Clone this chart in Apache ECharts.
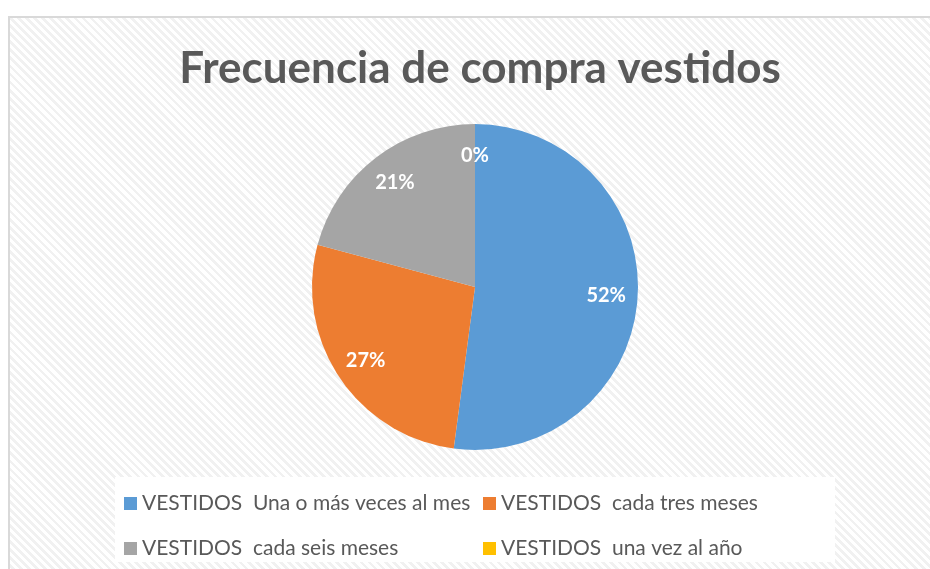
<!DOCTYPE html>
<html>
<head>
<meta charset="utf-8">
<script src="https://cdn.jsdelivr.net/npm/echarts@6/dist/echarts.min.js"></script>
<style>
  html, body { margin: 0; padding: 0; background: #fff; overflow: hidden; }
  #frame {
    position: absolute; left: 8px; top: 16px; width: 940px; height: 570px;
    border: 2px solid #d9d9d9;
    background: repeating-linear-gradient(45deg, #ffffff 0px, #ffffff 3px, #f1f1f1 3px, #f1f1f1 5.7px);
  }
  #chart { position: absolute; left: 0; top: 0; width: 930px; height: 569px; }
</style>
</head>
<body>
<div id="frame"></div>
<div id="chart"></div>
<script>
// categories and counts behind the percentages
const categories = [
  "VESTIDOS  Una o más veces al mes",
  "VESTIDOS  cada tres meses",
  "VESTIDOS  cada seis meses",
  "VESTIDOS  una vez al año"
];
const values = [50, 26, 20, 0];
const colors = ["#5B9BD5", "#ED7D31", "#A5A5A5", "#FFC000"];

const pieData = categories.map((c, i) => ({ name: c, value: values[i], itemStyle: { color: colors[i] } }));

const legendText = { fontFamily: "Lato", fontSize: 21, lineHeight: 20, color: "#595959" };

const myChart = echarts.init(document.getElementById("chart"));
myChart.setOption({
  animation: false,
  title: {
    text: "Frecuencia de compra vestidos",
    left: 475,
    textAlign: "center",
    top: 42,
    textStyle: { fontFamily: "Lato", fontWeight: "bold", fontSize: 44, color: "#595959" }
  },
  graphic: [
    { type: "rect", shape: { x: 115, y: 477, width: 720, height: 85 }, style: { fill: "#ffffff" }, z: -1 }
  ],
  legend: [
    {
      data: [categories[0], categories[2]],
      orient: "vertical",
      left: 119, top: 488,
      icon: "rect", itemWidth: 13, itemHeight: 13, itemGap: 24,
      textStyle: legendText,
      selectedMode: false
    },
    {
      data: [categories[1], categories[3]],
      orient: "vertical",
      left: 478, top: 488,
      icon: "rect", itemWidth: 13, itemHeight: 13, itemGap: 24,
      textStyle: legendText,
      selectedMode: false
    }
  ],
  series: [
    {
      type: "pie",
      center: [475, 287],
      radius: [0, 163],
      startAngle: 90,
      clockwise: true,
      data: pieData,
      label: { show: false },
      labelLine: { show: false },
      silent: true
    },
    {
      // same data, ring only used to place the percentage labels
      type: "pie",
      center: [475, 287],
      radius: [94, 163],
      startAngle: 90,
      clockwise: true,
      percentPrecision: 0,
      data: categories.map((c, i) => ({ name: c, value: values[i] })),
      itemStyle: { color: "transparent" },
      label: {
        show: true,
        position: "inside",
        formatter: "{d}%",
        fontFamily: "Lato",
        fontWeight: "bold",
        fontSize: 20,
        color: "#ffffff"
      },
      labelLine: { show: false },
      silent: true,
      z: 3
    }
  ]
});
</script>
</body>
</html>
